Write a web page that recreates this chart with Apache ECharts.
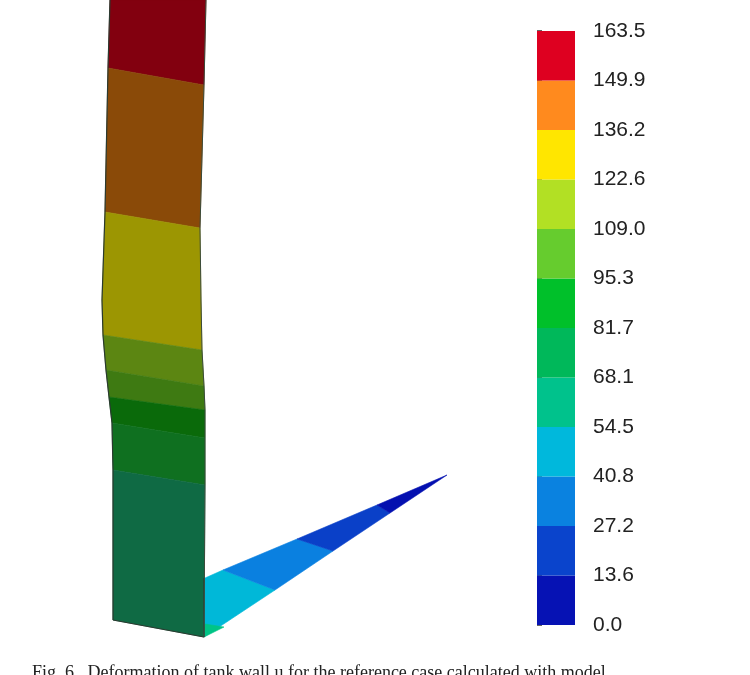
<!DOCTYPE html>
<html>
<head>
<meta charset="utf-8">
<script src="https://cdn.jsdelivr.net/npm/echarts@6/dist/echarts.min.js"></script>
<style>html,body{margin:0;padding:0;background:#fff}#chart{width:750px;height:675px}</style>
</head>
<body>
<div id="chart"></div>
<script>
// colour scale: band limits and colours (bottom to top)
const levelLabels = ['0.0', '13.6', '27.2', '40.8', '54.5', '68.1', '81.7', '95.3', '109.0', '122.6', '136.2', '149.9', '163.5'];
const levelColors = ['#0612b4', '#0a44cc', '#0a82e0', '#00b8dc', '#00c28c', '#00b85a', '#00c02a', '#66cc2e', '#b2e024', '#ffe600', '#ff8a1e', '#de0020'];
const bandStep = 163.5 / 12;

// deformed geometry (figure units, y downward), one polygon per band
const wallBands = [
  { color: '#82000f', pts: [[110, 0], [206, 0], [204, 85], [108, 68]] },
  { color: '#8a4a08', pts: [[108, 68], [204, 85], [200, 228], [105, 212]] },
  { color: '#9c9602', pts: [[105, 212], [200, 228], [201, 300], [202, 350], [103, 335], [102, 300]] },
  { color: '#5c8612', pts: [[103, 335], [202, 350], [204, 386], [106, 370]] },
  { color: '#3e7a12', pts: [[106, 370], [204, 386], [205, 410], [109, 397]] },
  { color: '#0a6a0a', pts: [[109, 397], [205, 410], [205, 438], [112, 423]] },
  { color: '#0f7020', pts: [[112, 423], [205, 438], [205, 485], [113, 470]] },
  { color: '#0f6a44', pts: [[113, 470], [205, 485], [204, 637], [113, 620]] }
];
const plateBands = [
  { color: '#00b8d8', pts: [[205, 578], [223, 570], [275, 590], [204, 637]] },
  { color: '#0a80e0', pts: [[223, 570], [297, 539], [333, 551], [275, 590]] },
  { color: '#0a40c8', pts: [[297, 539], [377, 505], [390, 513], [333, 551]] },
  { color: '#0410b0', pts: [[377, 505], [447, 475], [390, 513]] },
  { color: '#00c486', pts: [[205, 624], [224, 627], [204, 637]] }
];
const wallLeft = [[110, 0], [108, 68], [105, 212], [102, 300], [103, 335], [106, 370], [109, 397], [112, 423], [113, 470], [113, 620]];
const wallBottom = [[113, 620], [204, 637], [204, 578]];
const wallRight = [[206, 0], [204, 85], [200, 228], [201, 300], [202, 350], [204, 386], [205, 410], [205, 438], [205, 485], [204, 637]];

const shapes = wallBands.concat(plateBands);
const barData = levelColors.map((c, i) => [i * bandStep, (i + 1) * bandStep, c]);

function polyItem(params, api) {
  const s = shapes[params.dataIndex];
  return {
    type: 'polygon',
    shape: { points: s.pts.map(p => api.coord(p)) },
    style: { fill: s.color, stroke: s.color, lineWidth: 0.6 }
  };
}

function edge(data, color, width) {
  return {
    type: 'line', xAxisIndex: 0, yAxisIndex: 0, silent: true, symbol: 'none',
    data: data, lineStyle: { color: color, width: width }
  };
}

const chart = echarts.init(document.getElementById('chart'));
chart.setOption({
  animation: false,
  grid: [
    { left: 0, top: 0, width: 750, height: 675 },
    { left: 537, top: 31, width: 38, height: 594 }
  ],
  xAxis: [
    { gridIndex: 0, type: 'value', min: 0, max: 750, show: false },
    { gridIndex: 1, type: 'value', min: 0, max: 1, show: false }
  ],
  yAxis: [
    { gridIndex: 0, type: 'value', min: 0, max: 675, inverse: true, show: false },
    {
      gridIndex: 1, type: 'value', min: 0, max: 163.5, interval: bandStep, position: 'right',
      axisLine: { show: false }, splitLine: { show: false },
      axisTick: { show: true, length: 5, lineStyle: { color: '#333', width: 1.5 } },
      axisLabel: {
        margin: 18, color: '#222', fontSize: 21, fontFamily: 'Liberation Sans, Arial',
        formatter: v => levelLabels[Math.round(v / bandStep)]
      }
    }
  ],
  series: [
    {
      type: 'custom', xAxisIndex: 0, yAxisIndex: 0, silent: true,
      data: shapes.map((s, i) => i),
      renderItem: polyItem
    },
    edge(wallLeft, '#2a3a30', 1.2),
    edge(wallBottom, '#2a3a30', 1.2),
    edge(wallRight, '#3a4a3a', 1),
    {
      type: 'custom', xAxisIndex: 1, yAxisIndex: 1, silent: true,
      data: barData,
      renderItem: (params, api) => {
        const a = api.coord([0, api.value(0)]);
        const b = api.coord([1, api.value(1)]);
        return {
          type: 'rect',
          shape: { x: a[0], y: b[1], width: b[0] - a[0], height: a[1] - b[1] },
          style: { fill: barData[params.dataIndex][2] }
        };
      }
    }
  ],
  graphic: [{
    type: 'text', left: 32, top: 664,
    style: {
      text: 'Fig. 6.  Deformation of tank wall u for the reference case calculated with model',
      font: '18px "Liberation Serif", serif', fill: '#222'
    }
  }]
});
</script>
</body>
</html>
